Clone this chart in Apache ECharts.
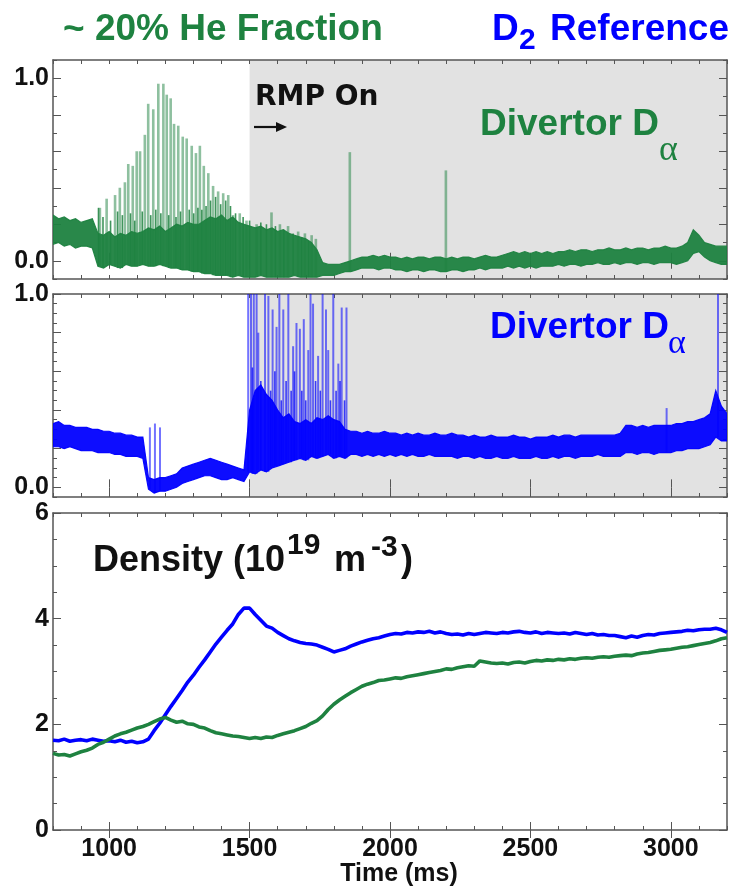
<!DOCTYPE html>
<html>
<head>
<meta charset="utf-8">
<script src="https://cdn.jsdelivr.net/npm/echarts@6/dist/echarts.min.js"></script>
<style>
  html, body { margin: 0; padding: 0; background: #ffffff; }
  #chart { width: 732px; height: 886px; }
</style>
</head>
<body>
<div id="chart"></div>
<script>
// ---- sampling grid (ms) shared by all traces ----
const T_START = 800;
const T_STEP = 20;

// ---- He-seeded shot: divertor D-alpha, lower / upper edge of the noisy trace ----
const heDaLow = [
  0.09, 0.10, 0.08, 0.09, 0.07, 0.08, 0.08, 0.07, -0.03, -0.04,
  -0.02, -0.03, -0.04, -0.02, -0.03, -0.03, -0.02, -0.03, -0.03, -0.02,
  -0.03, -0.04, -0.04, -0.05, -0.05, -0.06, -0.06, -0.07, -0.07, -0.08,
  -0.08, -0.08, -0.09, -0.08, -0.09, -0.09, -0.09, -0.08, -0.09, -0.09,
  -0.09, -0.09, -0.09, -0.08, -0.09, -0.09, -0.09, -0.09, -0.08, -0.08,
  -0.08, -0.07, -0.06, -0.06, -0.05, -0.04, -0.04, -0.04, -0.05, -0.04,
  -0.04, -0.05, -0.05, -0.06, -0.05, -0.05, -0.06, -0.05, -0.05, -0.06,
  -0.06, -0.05, -0.05, -0.06, -0.05, -0.05, -0.04, -0.05, -0.04, -0.04,
  -0.04, -0.03, -0.04, -0.03, -0.04, -0.03, -0.04, -0.03, -0.03, -0.03,
  -0.02, -0.03, -0.02, -0.02, -0.03, -0.02, -0.02, -0.01, -0.02, -0.02,
  -0.01, -0.02, -0.01, -0.01, -0.02, -0.01, -0.01, -0.02, -0.01, -0.01,
  -0.01, -0.02, -0.01, 0.00, 0.04, 0.05, 0.02, 0.00, -0.01, -0.02,
  -0.02
];
const heDaHigh = [
  0.25, 0.23, 0.24, 0.22, 0.23, 0.21, 0.22, 0.23, 0.15, 0.14,
  0.16, 0.13, 0.15, 0.14, 0.16, 0.15, 0.16, 0.18, 0.17, 0.19,
  0.16, 0.18, 0.20, 0.19, 0.21, 0.20, 0.20, 0.22, 0.24, 0.23,
  0.25, 0.22, 0.24, 0.21, 0.20, 0.19, 0.18, 0.19, 0.17, 0.18,
  0.16, 0.17, 0.15, 0.14, 0.13, 0.12, 0.10, 0.06, -0.01, -0.02,
  -0.02, -0.02, -0.01, 0.00, 0.01, 0.02, 0.02, 0.03, 0.02, 0.03,
  0.02, 0.02, 0.01, 0.02, 0.01, 0.02, 0.02, 0.01, 0.02, 0.02,
  0.01, 0.02, 0.01, 0.02, 0.02, 0.01, 0.02, 0.03, 0.02, 0.02,
  0.03, 0.04, 0.05, 0.04, 0.05, 0.04, 0.05, 0.04, 0.05, 0.04,
  0.05, 0.05, 0.06, 0.05, 0.06, 0.06, 0.05, 0.06, 0.06, 0.07,
  0.06, 0.06, 0.07, 0.06, 0.07, 0.07, 0.06, 0.07, 0.07, 0.08,
  0.07, 0.07, 0.08, 0.10, 0.17, 0.14, 0.10, 0.09, 0.08, 0.08,
  0.08
];
// large ELM bursts on the He shot (time ms, peak)
const heElmTimes = [
  967, 991, 1021, 1038, 1056, 1068, 1084, 1098, 1110, 1127,
  1139, 1157, 1175, 1193, 1205, 1219, 1231, 1246, 1262, 1276,
  1294, 1309, 1323, 1337, 1353, 1370, 1388, 1406, 1424, 1441,
  1465, 1489, 1525, 1578, 1608, 1637, 1673, 1697, 1721, 1736,
  1857, 2199
];
const heElmPeaks = [
  0.29, 0.34, 0.36, 0.40, 0.43, 0.53, 0.52, 0.60, 0.60, 0.69,
  0.86, 0.83, 0.97, 0.97, 0.91, 0.89, 0.75, 0.74, 0.68, 0.67,
  0.63, 0.59, 0.63, 0.52, 0.48, 0.41, 0.38, 0.37, 0.36, 0.25,
  0.26, 0.22, 0.20, 0.265, 0.20, 0.19, 0.16, 0.15, 0.14, 0.12,
  0.595, 0.495
];
// smaller, denser ELMs on the He shot
const heSmallElmTimes = [
  962, 978, 1005, 1030, 1047, 1076, 1091, 1118, 1148, 1166,
  1184, 1212, 1238, 1254, 1285, 1301, 1316, 1330, 1345, 1361,
  1379, 1397, 1415, 1432, 1450, 1477, 1500, 1540, 1560, 1592,
  1622, 1655, 1685, 1710
];
const heSmallElmPeaks = [
  0.29, 0.24, 0.22, 0.27, 0.25, 0.26, 0.22, 0.27, 0.25, 0.28,
  0.26, 0.25, 0.24, 0.27, 0.28, 0.26, 0.29, 0.28, 0.30, 0.33,
  0.35, 0.31, 0.33, 0.30, 0.26, 0.24, 0.22, 0.21, 0.20, 0.19,
  0.17, 0.15, 0.13, 0.11
];

// ---- D2 reference shot: divertor D-alpha ----
const d2DaLow = [
  0.21, 0.21, 0.20, 0.21, 0.20, 0.19, 0.19, 0.19, 0.18, 0.18,
  0.18, 0.17, 0.17, 0.16, 0.16, 0.16, 0.15, -0.01, -0.03, -0.02,
  -0.02, -0.01, 0.00, 0.02, 0.03, 0.04, 0.05, 0.06, 0.06, 0.05,
  0.04, 0.04, 0.05, 0.04, 0.03, 0.08, 0.07, 0.09, 0.08, 0.10,
  0.11, 0.12, 0.13, 0.14, 0.15, 0.14, 0.16, 0.15, 0.16, 0.17,
  0.15, 0.16, 0.15, 0.17, 0.17, 0.16, 0.17, 0.16, 0.17, 0.16,
  0.17, 0.16, 0.17, 0.16, 0.17, 0.16, 0.16, 0.17, 0.16, 0.16,
  0.16, 0.16, 0.15, 0.16, 0.16, 0.15, 0.16, 0.15, 0.15, 0.16,
  0.15, 0.15, 0.16, 0.15, 0.15, 0.15, 0.16, 0.15, 0.15, 0.16,
  0.15, 0.16, 0.16, 0.15, 0.16, 0.16, 0.16, 0.17, 0.16, 0.16,
  0.16, 0.16, 0.18, 0.18, 0.17, 0.18, 0.18, 0.17, 0.18, 0.18,
  0.18, 0.19, 0.19, 0.20, 0.20, 0.20, 0.21, 0.22, 0.26, 0.24,
  0.24
];
const d2DaHigh = [
  0.33, 0.34, 0.32, 0.32, 0.31, 0.31, 0.31, 0.30, 0.30, 0.29,
  0.29, 0.28, 0.28, 0.27, 0.27, 0.26, 0.26, 0.05, 0.04, 0.05,
  0.05, 0.06, 0.07, 0.10, 0.11, 0.12, 0.13, 0.14, 0.15, 0.14,
  0.13, 0.12, 0.11, 0.10, 0.09, 0.40, 0.50, 0.53, 0.48, 0.45,
  0.40, 0.36, 0.38, 0.34, 0.33, 0.35, 0.33, 0.36, 0.35, 0.37,
  0.35, 0.34, 0.30, 0.29, 0.29, 0.28, 0.29, 0.28, 0.28, 0.29,
  0.28, 0.28, 0.27, 0.28, 0.27, 0.28, 0.27, 0.27, 0.28, 0.27,
  0.27, 0.28, 0.27, 0.27, 0.26, 0.27, 0.26, 0.26, 0.27, 0.26,
  0.26, 0.26, 0.27, 0.26, 0.26, 0.25, 0.26, 0.26, 0.26, 0.27,
  0.26, 0.27, 0.27, 0.26, 0.27, 0.27, 0.27, 0.27, 0.27, 0.27,
  0.27, 0.28, 0.32, 0.32, 0.31, 0.32, 0.31, 0.32, 0.32, 0.32,
  0.32, 0.33, 0.33, 0.34, 0.34, 0.35, 0.36, 0.38, 0.50, 0.42,
  0.38
];
const d2ElmTimes = [
  1145, 1163, 1181,
  1495, 1505, 1515, 1525, 1531, 1555, 1567, 1582, 1596, 1606,
  1620, 1638, 1655, 1667, 1679, 1693, 1709, 1717, 1726, 1744,
  1760, 1772, 1780, 1798, 1816, 1828, 1845,
  2985, 3168
];
const d2ElmPeaks = [
  0.31, 0.33, 0.31,
  1.00, 1.00, 1.00, 1.00, 0.80, 1.00, 0.99, 0.92, 0.83, 1.00,
  0.92, 1.00, 0.73, 0.85, 0.82, 0.87, 0.71, 1.00, 0.95, 0.68,
  1.00, 0.92, 0.71, 1.00, 0.64, 0.93, 0.93,
  0.41, 1.00
];
// smaller ELMs on the D2 shot
const d2SmallElmTimes = [
  1510, 1540, 1575, 1590, 1613, 1630, 1648, 1660, 1686, 1700,
  1735, 1752, 1788, 1808, 1822, 1838
];
const d2SmallElmPeaks = [
  0.62, 0.55, 0.50, 0.60, 0.45, 0.55, 0.50, 0.60, 0.50, 0.45,
  0.55, 0.50, 0.45, 0.50, 0.55, 0.45
];

// ---- line-averaged density (1e19 m^-3) ----
const heDensity = [
  1.45, 1.42, 1.43, 1.40, 1.44, 1.48, 1.51, 1.55, 1.62, 1.66,
  1.72, 1.78, 1.82, 1.85, 1.89, 1.93, 1.96, 2.00, 2.05, 2.10,
  2.13, 2.08, 2.04, 2.06, 2.01, 2.00, 1.95, 1.93, 1.88, 1.84,
  1.82, 1.80, 1.78, 1.77, 1.75, 1.73, 1.75, 1.73, 1.76, 1.75,
  1.79, 1.82, 1.85, 1.88, 1.92, 1.96, 2.02, 2.07, 2.16, 2.28,
  2.38, 2.46, 2.53, 2.60, 2.66, 2.72, 2.76, 2.79, 2.83, 2.84,
  2.86, 2.88, 2.87, 2.90, 2.92, 2.94, 2.96, 2.98, 3.00, 3.02,
  3.05, 3.04, 3.07, 3.09, 3.11, 3.10, 3.20, 3.18, 3.16, 3.15,
  3.16, 3.14, 3.17, 3.18, 3.16, 3.19, 3.21, 3.20, 3.22, 3.21,
  3.23, 3.22, 3.24, 3.23, 3.25, 3.26, 3.25, 3.27, 3.28, 3.27,
  3.29, 3.30, 3.31, 3.30, 3.33, 3.35, 3.36, 3.38, 3.40, 3.41,
  3.42, 3.44, 3.46, 3.47, 3.49, 3.51, 3.53, 3.55, 3.58, 3.62,
  3.64
];
const d2Density = [
  1.70, 1.69, 1.72, 1.68, 1.70, 1.71, 1.69, 1.72, 1.70, 1.68,
  1.69, 1.67, 1.70, 1.66, 1.68, 1.65, 1.67, 1.72, 1.88, 2.02,
  2.18, 2.34, 2.49, 2.64, 2.80, 2.93, 3.08, 3.22, 3.37, 3.52,
  3.65, 3.78, 3.90, 4.08, 4.20, 4.20, 4.08, 3.97, 3.86, 3.82,
  3.74, 3.68, 3.62, 3.58, 3.55, 3.53, 3.52, 3.50, 3.46, 3.42,
  3.37, 3.40, 3.43, 3.48, 3.52, 3.56, 3.59, 3.62, 3.64, 3.67,
  3.70, 3.72, 3.71, 3.74, 3.73, 3.75, 3.74, 3.76, 3.73, 3.75,
  3.72, 3.70, 3.71, 3.69, 3.72, 3.70, 3.72, 3.74, 3.73, 3.72,
  3.74, 3.73, 3.75, 3.76, 3.74, 3.73, 3.75, 3.72, 3.74, 3.73,
  3.72, 3.73, 3.71, 3.74, 3.72, 3.70, 3.72, 3.69, 3.70, 3.68,
  3.68, 3.66, 3.64, 3.67, 3.65, 3.68, 3.70, 3.69, 3.72, 3.73,
  3.74, 3.75, 3.76, 3.78, 3.77, 3.79, 3.80, 3.80, 3.82, 3.79,
  3.74
];

// RMP coil current window (ms)
const rmpWindow = [1500, 3200];

// ---- axis ranges and tick labels ----
const X_MIN = 800, X_MAX = 3200;
const xTickLabels = [1000, 1500, 2000, 2500, 3000];
const daMajorTicks = [0, 0.2, 0.4, 0.6, 0.8, 1.0];
const daTickLabels = [0, 1];
const densityTickLabels = [0, 2, 4, 6];

// ---- styling ----
const GREEN = '#1e8240';
const GREEN_ELM = 'rgba(30,130,64,0.50)';
const GREEN_SMALL = 'rgba(30,130,64,0.85)';
const BLUE = '#0000ff';
const BLUE_ELM = 'rgba(0,0,255,0.55)';
const BLUE_SMALL = 'rgba(0,0,255,0.75)';
const FRAME = '#555555';
const SHADE = '#e2e2e2';
const SANS = '"Liberation Sans", Arial, Helvetica, sans-serif';
const SERIF = '"Liberation Serif", "DejaVu Serif", serif';

const times = heDensity.map((_, i) => T_START + i * T_STEP);

const labelFont = { color: '#111111', fontFamily: SANS, fontWeight: 'bold', fontSize: 25 };
const frameLine = { show: true, onZero: false, lineStyle: { color: FRAME, width: 1.5 } };

const panels = [
  { left: 53, top: 60, width: 674, height: 219, yMin: -0.1, yMax: 1.1, minor: 0.1, major: daMajorTicks, labels: daTickLabels, fmt: v => v.toFixed(1) },
  { left: 53, top: 294, width: 674, height: 203, yMin: -0.05, yMax: 1.0, minor: 0.05, major: daMajorTicks, labels: daTickLabels, fmt: v => v.toFixed(1) },
  { left: 53, top: 513, width: 674, height: 317, yMin: 0, yMax: 6, minor: 0.5, major: densityTickLabels, labels: densityTickLabels, fmt: v => String(v) }
];

const grid = [], xAxis = [], yAxis = [];
panels.forEach((p, gi) => {
  grid.push({ left: p.left, top: p.top, width: p.width, height: p.height, containLabel: false });
  const xb = { gridIndex: gi, type: 'value', min: X_MIN, max: X_MAX, splitLine: { show: false } };
  xAxis.push(
    { ...xb, position: 'bottom', interval: 100, axisLine: frameLine,
      axisTick: { inside: true, length: 4, lineStyle: { color: FRAME } }, axisLabel: { show: false } },
    { ...xb, position: 'bottom', axisLine: { show: false },
      axisTick: { inside: true, length: 8, customValues: xTickLabels, lineStyle: { color: FRAME } },
      axisLabel: { show: gi === 2, customValues: xTickLabels, formatter: v => String(v), margin: 7, ...labelFont } },
    { ...xb, position: 'top', interval: 100, axisLine: frameLine,
      axisTick: { inside: true, length: 4, lineStyle: { color: FRAME } }, axisLabel: { show: false } },
    { ...xb, position: 'top', axisLine: { show: false },
      axisTick: { inside: true, length: 8, customValues: xTickLabels, lineStyle: { color: FRAME } }, axisLabel: { show: false } }
  );
  const yb = { gridIndex: gi, type: 'value', min: p.yMin, max: p.yMax, splitLine: { show: false } };
  yAxis.push(
    { ...yb, position: 'left', interval: p.minor, axisLine: frameLine,
      axisTick: { inside: true, length: 4, lineStyle: { color: FRAME } }, axisLabel: { show: false } },
    { ...yb, position: 'left', axisLine: { show: false },
      axisTick: { inside: true, length: 8, customValues: p.major, lineStyle: { color: FRAME } },
      axisLabel: { customValues: p.labels, formatter: p.fmt, margin: 4, ...labelFont } },
    { ...yb, position: 'right', interval: p.minor, axisLine: frameLine,
      axisTick: { inside: true, length: 4, lineStyle: { color: FRAME } }, axisLabel: { show: false } },
    { ...yb, position: 'right', axisLine: { show: false },
      axisTick: { inside: true, length: 8, customValues: p.major, lineStyle: { color: FRAME } }, axisLabel: { show: false } }
  );
});

// grey background for the RMP-on interval
function shadeSeries(gi) {
  return {
    type: 'custom', xAxisIndex: gi * 4, yAxisIndex: gi * 4, silent: true, z: 0,
    data: [[rmpWindow[0], rmpWindow[1], 0]],
    encode: { x: [0, 1], y: 2 },
    renderItem: (params, api) => {
      const cs = params.coordSys;
      const x0 = api.coord([api.value(0), 0])[0];
      const x1 = api.coord([api.value(1), 0])[0];
      return { type: 'rect', shape: { x: x0, y: cs.y, width: x1 - x0, height: cs.height }, style: { fill: SHADE } };
    }
  };
}

// vertical ELM spikes rising from the local lower edge of the trace
function spikeSeries(gi, tArr, pArr, lowArr, color, width, z) {
  const rows = tArr.map((t, k) => {
    const idx = Math.min(lowArr.length - 1, Math.max(0, Math.round((t - T_START) / T_STEP)));
    return [t, lowArr[idx], pArr[k]];
  });
  return {
    type: 'custom', xAxisIndex: gi * 4, yAxisIndex: gi * 4, silent: true, z: z, clip: true,
    data: rows, encode: { x: 0, y: [1, 2] },
    renderItem: (params, api) => {
      const a = api.coord([api.value(0), api.value(1)]);
      const b = api.coord([api.value(0), api.value(2)]);
      return { type: 'line', shape: { x1: a[0], y1: a[1], x2: b[0], y2: b[1] }, style: { stroke: color, lineWidth: width } };
    }
  };
}

// noisy trace drawn as a filled band between its lower and upper edges
function bandSeries(gi, lowArr, highArr, color) {
  const rows = times.map((t, i) => [t, lowArr[i], highArr[i]]);
  return {
    type: 'custom', xAxisIndex: gi * 4, yAxisIndex: gi * 4, silent: true, z: 2, clip: true,
    data: rows, encode: { x: 0, y: [1, 2] },
    renderItem: (params, api) => {
      if (params.dataIndex !== 0) return null;
      const upper = rows.map(r => api.coord([r[0], r[2]]));
      const lower = rows.map(r => api.coord([r[0], r[1]])).reverse();
      return { type: 'polygon', shape: { points: upper.concat(lower) },
        style: { fill: color, stroke: color, lineWidth: 1.2, opacity: 0.95 } };
    }
  };
}

function densitySeries(values, color) {
  return { type: 'line', xAxisIndex: 8, yAxisIndex: 8, showSymbol: false, silent: true, z: 2,
    lineStyle: { color: color, width: 3.6 },
    data: times.map((t, i) => [t, values[i]]) };
}

const series = [
  shadeSeries(0),
  spikeSeries(0, heElmTimes, heElmPeaks, heDaLow, GREEN_ELM, 2.6, 1),
  spikeSeries(0, heSmallElmTimes, heSmallElmPeaks, heDaLow, GREEN_SMALL, 1.6, 1),
  bandSeries(0, heDaLow, heDaHigh, GREEN),
  shadeSeries(1),
  spikeSeries(1, d2ElmTimes, d2ElmPeaks, d2DaLow, BLUE_ELM, 2.0, 1),
  spikeSeries(1, d2SmallElmTimes, d2SmallElmPeaks, d2DaLow, BLUE_SMALL, 1.6, 1),
  bandSeries(1, d2DaLow, d2DaHigh, BLUE),
  densitySeries(d2Density, BLUE),
  densitySeries(heDensity, GREEN)
];

function txt(x, y, text, fill, size, opts) {
  return { type: 'text', x: x, y: y, silent: true, z: 10,
    style: Object.assign({ text: text, fill: fill, fontSize: size, fontWeight: 'bold', fontFamily: SANS,
      align: 'left', verticalAlign: 'middle', textAlign: 'left', textVerticalAlign: 'middle' }, opts || {}) };
}

const graphic = [
  txt(63, 30, '~ 20% He Fraction', GREEN, 37),
  txt(492, 30, 'D', BLUE, 37),
  txt(519, 41, '2', BLUE, 30),
  txt(729, 30, 'Reference', BLUE, 37, { align: 'right', textAlign: 'right' }),
  txt(255, 98, 'RMP On', '#111111', 28, { fontFamily: '"DejaVu Sans", sans-serif' }),
  { type: 'line', silent: true, z: 10, shape: { x1: 254, y1: 127, x2: 280, y2: 127 }, style: { stroke: '#111111', lineWidth: 2.2 } },
  { type: 'polygon', silent: true, z: 10, shape: { points: [[287, 127], [276, 122], [276, 132]] }, style: { fill: '#111111' } },
  txt(480, 125, 'Divertor D', GREEN, 37),
  txt(659, 151, 'α', GREEN, 36, { fontFamily: SERIF, fontWeight: 'normal' }),
  txt(490, 328, 'Divertor D', BLUE, 37),
  txt(668, 344, 'α', BLUE, 34, { fontFamily: SERIF, fontWeight: 'normal' }),
  txt(93, 561, 'Density (10', '#111111', 36),
  txt(287, 546, '19', '#111111', 30),
  txt(334, 561, 'm', '#111111', 36),
  txt(371, 548, '-3', '#111111', 30),
  txt(401, 561, ')', '#111111', 36),
  txt(399, 874, 'Time (ms)', '#111111', 25, { align: 'center', textAlign: 'center' })
];

const chart = echarts.init(document.getElementById('chart'), null, { renderer: 'canvas' });
chart.setOption({
  animation: false,
  backgroundColor: '#ffffff',
  grid: grid,
  xAxis: xAxis,
  yAxis: yAxis,
  series: series,
  graphic: graphic
});
</script>
</body>
</html>
